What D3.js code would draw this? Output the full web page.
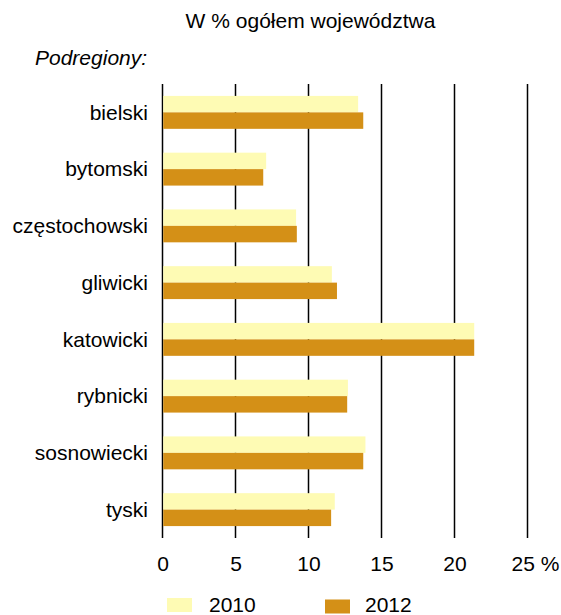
<!DOCTYPE html>
<html>
<head>
<meta charset="utf-8">
<script src="https://cdn.jsdelivr.net/npm/d3@7"></script>
<style>
  body { margin: 0; background: #fff; }
  text { font-family: "Liberation Sans", Arial, sans-serif; fill: #000; }
</style>
</head>
<body>
<svg id="chart" width="561" height="615"></svg>
<script>
const categories = ["bielski", "bytomski", "częstochowski", "gliwicki", "katowicki", "rybnicki", "sosnowiecki", "tyski"];
const years = ["2010", "2012"];
const values2010 = [13.4, 7.1, 9.15, 11.6, 21.35, 12.7, 13.9, 11.8];
const values2012 = [13.75, 6.9, 9.2, 11.95, 21.35, 12.65, 13.75, 11.55];
const xTicks = [0, 5, 10, 15, 20, 25];
const colors = { "2010": "#fefbb4", "2012": "#d49017" };

const svg = d3.select('#chart');

const x = d3.scaleLinear().domain([0, 25]).range([162.5, 527.5]);
const y = d3.scaleBand().domain(categories).range([84, 538])
  .paddingInner(0.42).paddingOuter(0.21);
const ySub = d3.scaleBand().domain(years).range([0, y.bandwidth()]);

// gridlines
svg.append('g').selectAll('line')
  .data(xTicks)
  .enter().append('line')
    .attr('x1', d => x(d)).attr('x2', d => x(d))
    .attr('y1', 84).attr('y2', 538)
    .attr('stroke', '#000')
    .attr('stroke-width', 1.5);

const rows = categories.map((c, i) => ({ c, v: [values2010[i], values2012[i]] }));

const groups = svg.append('g').selectAll('g')
  .data(rows)
  .enter().append('g')
    .attr('transform', d => `translate(0,${y(d.c)})`);

groups.selectAll('rect')
  .data(d => years.map((yr, j) => ({ yr, v: d.v[j] })))
  .enter().append('rect')
    .attr('x', x(0) + 0.75)
    .attr('y', d => ySub(d.yr))
    .attr('width', d => x(d.v) - x(0) - 0.75)
    .attr('height', ySub.bandwidth())
    .style('fill', d => colors[d.yr]);

// category labels
groups.append('text')
  .attr('x', 148)
  .attr('y', y.bandwidth() / 2)
  .attr('dy', '0.35em')
  .attr('text-anchor', 'end')
  .style('font-size', '21px')
  .text(d => d.c);

// x axis labels
const axis = svg.append('g')
  .attr('transform', 'translate(0,538)')
  .call(d3.axisBottom(x).tickValues(xTicks).tickSize(0).tickPadding(18)
    .tickFormat(d => d === 25 ? '25 %' : d));
axis.select('.domain').remove();
axis.selectAll('text')
  .style('font-size', '21px')
  .attr('font-family', null);
axis.selectAll('.tick').filter(d => d === 25).select('text')
  .attr('text-anchor', 'start')
  .attr('x', -16.5);

// titles
svg.append('text')
  .attr('x', 310.5).attr('y', 28)
  .attr('text-anchor', 'middle')
  .style('font-size', '21px')
  .text('W % ogółem województwa');

svg.append('text')
  .attr('x', 35).attr('y', 65)
  .style('font-size', '21px')
  .style('font-style', 'italic')
  .text('Podregiony:');

// legend
const legendX = [167, 325];
const legend = svg.append('g').selectAll('g')
  .data(years)
  .enter().append('g')
    .attr('transform', (d, i) => `translate(${legendX[i]},598)`);
legend.append('rect')
  .attr('y', (d, i) => i * 1.5)
  .attr('width', 25).attr('height', 14)
  .style('fill', d => colors[d]);
legend.append('text')
  .attr('x', d => d === '2010' ? 42 : 40).attr('y', 14)
  .style('font-size', '21px')
  .text(d => d);
</script>
</body>
</html>
